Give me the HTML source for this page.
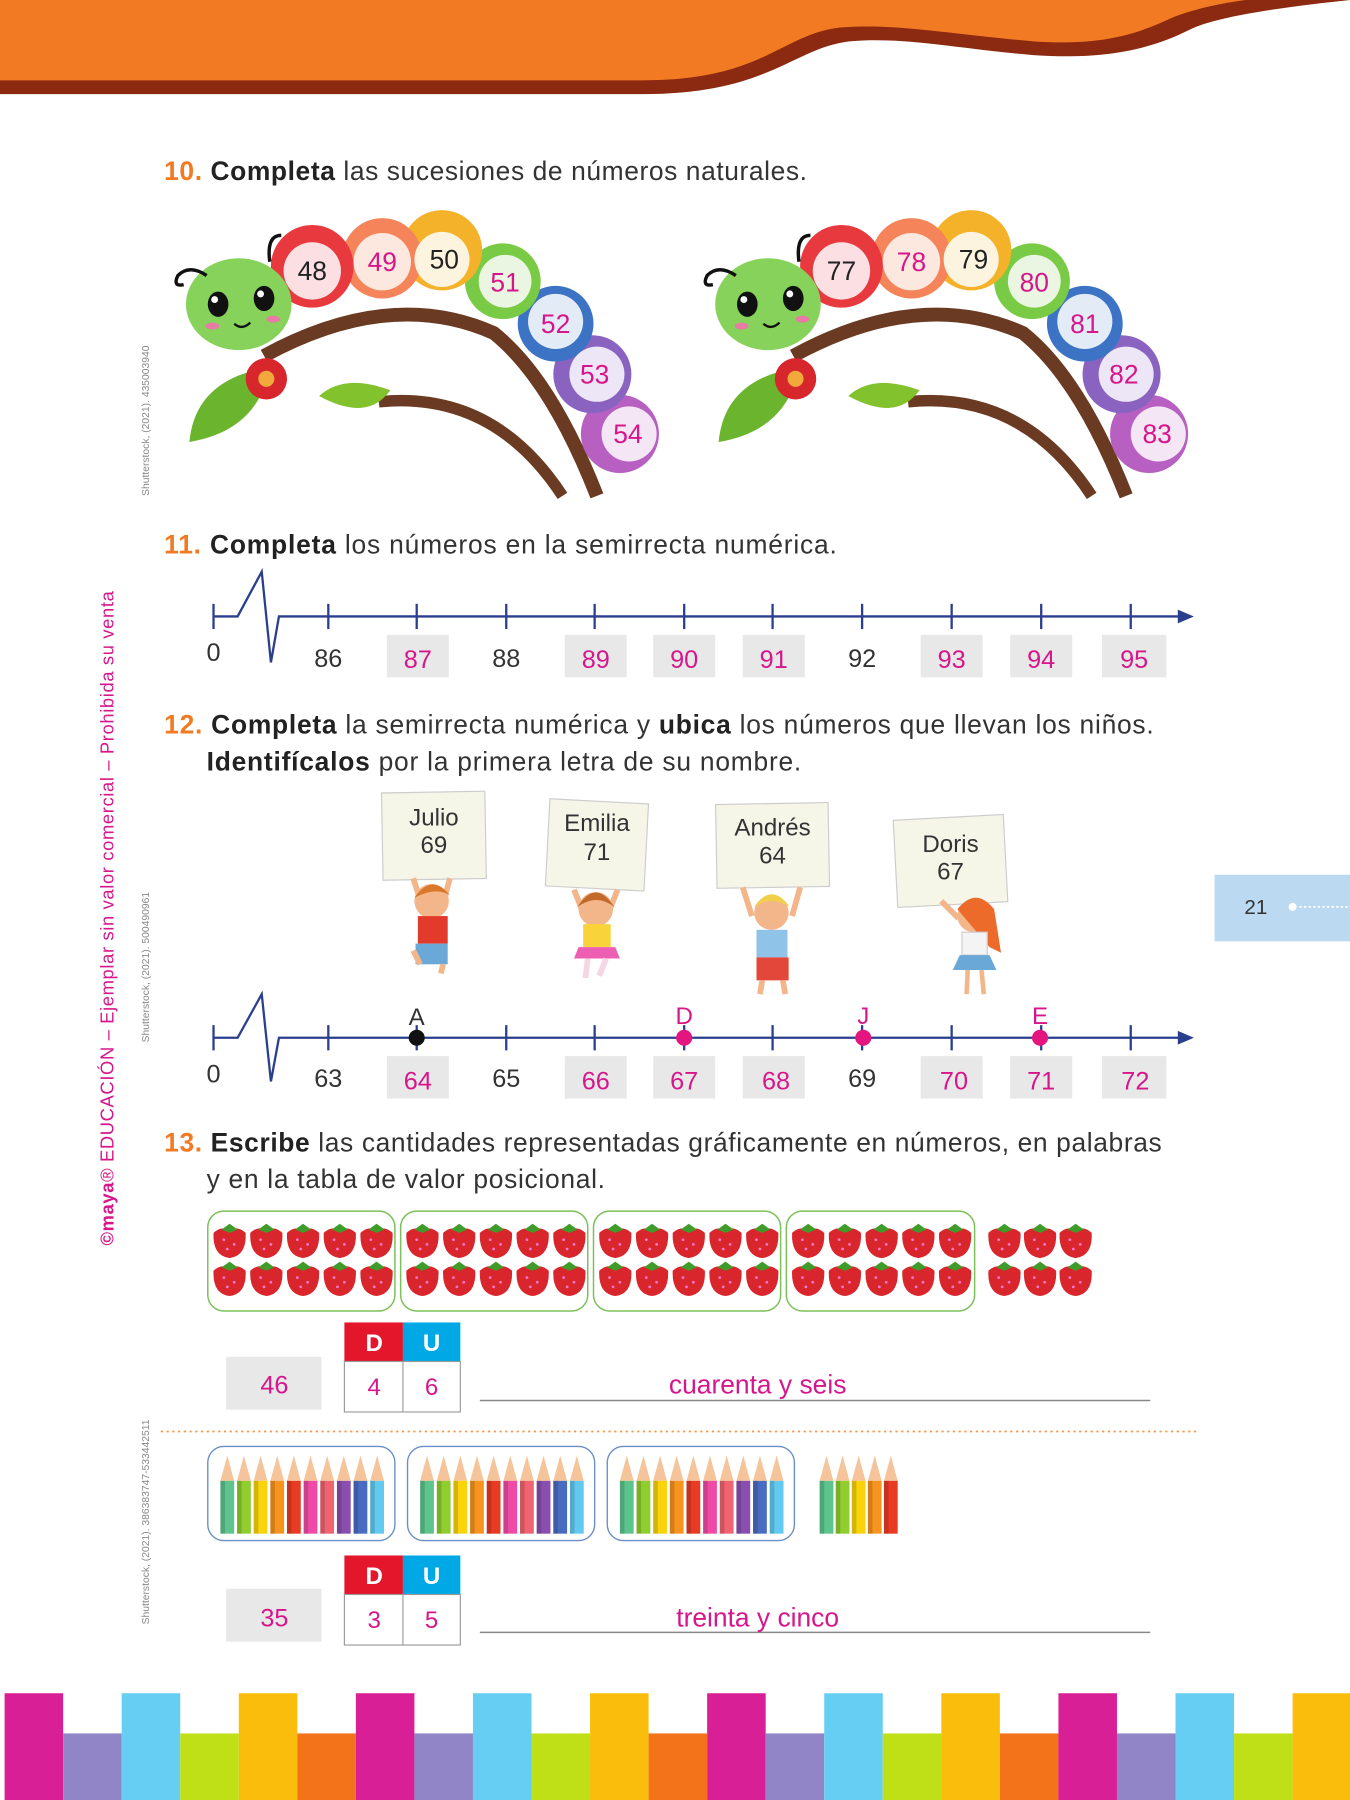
<!DOCTYPE html>
<html><head><meta charset="utf-8"><style>html,body{margin:0;padding:0;background:#fff}svg{display:block}</style></head><body>
<svg xmlns="http://www.w3.org/2000/svg" xmlns:xlink="http://www.w3.org/1999/xlink" width="1350" height="1800" viewBox="0 0 1176 1568" font-family="Liberation Sans, sans-serif">
<defs>
<g id="straw"><path d="M-14,-6 Q-15,14 0,16 Q15,14 14,-6 Q8,-12 0,-9 Q-8,-12 -14,-6Z" fill="#d8262c"/><path d="M-7,-9 L0,-14 L7,-9 L0,-6Z" fill="#3f9b2a"/><circle cx="-5" cy="0" r="1.2" fill="#f7c"/><circle cx="4" cy="4" r="1.2" fill="#f7c"/><circle cx="-2" cy="8" r="1.2" fill="#f7c"/></g>
<g id="sgrp"><use href="#straw" x="0" y="0"/><use href="#straw" x="32" y="0"/><use href="#straw" x="64" y="0"/><use href="#straw" x="96" y="0"/><use href="#straw" x="128" y="0"/><use href="#straw" x="0" y="33"/><use href="#straw" x="32" y="33"/><use href="#straw" x="64" y="33"/><use href="#straw" x="96" y="33"/><use href="#straw" x="128" y="33"/></g>
<g id="pencil"><path d="M0,22 L6,0 L12,22Z" fill="#f5c49a"/><rect x="0" y="22" width="12" height="46"/><rect x="0" y="22" width="4" height="46" fill="#000" opacity=".15"/></g>
<g id="pset"><use href="#pencil" x="0" fill="#5cc48c"/><use href="#pencil" x="14.5" fill="#8fce2e"/><use href="#pencil" x="29" fill="#f9d40a"/><use href="#pencil" x="43.5" fill="#f7941d"/><use href="#pencil" x="58" fill="#e83b23"/><use href="#pencil" x="72.5" fill="#ef4aa6"/><use href="#pencil" x="87" fill="#f06370"/><use href="#pencil" x="101.5" fill="#8a4fae"/><use href="#pencil" x="116" fill="#4a6cc0"/><use href="#pencil" x="130.5" fill="#62c9f0"/></g>
<g id="cat">
<path d="M230,310 Q340,250 430,290 Q480,330 520,432" stroke="#6b3a22" stroke-width="12" fill="none"/>
<path d="M330,350 Q430,340 490,432" stroke="#6b3a22" stroke-width="10" fill="none"/>
<path d="M165,385 Q170,330 235,320 Q225,375 165,385Z" fill="#6bb52e"/>
<path d="M278,345 Q300,325 340,340 Q320,368 278,345Z" fill="#82c22d"/>
<circle cx="232" cy="330" r="18" fill="#d7262c"/><circle cx="232" cy="330" r="7" fill="#f2a93b"/>
<circle cx="540" cy="378" r="34" fill="#b760c2"/><circle cx="516" cy="326" r="34" fill="#8a63c0"/><circle cx="484" cy="282" r="33" fill="#3d73c4"/><circle cx="438" cy="245" r="33" fill="#79cb45"/><circle cx="385" cy="218" r="35" fill="#f4b22a"/><circle cx="333" cy="225" r="35" fill="#f5845a"/><circle cx="272" cy="232" r="36" fill="#e83a3e"/>
<circle cx="548" cy="378" r="24" fill="#f4e6f5"/><circle cx="520" cy="326" r="24" fill="#ece6f6"/><circle cx="484" cy="280" r="24" fill="#e3ebf7"/><circle cx="440" cy="245" r="23" fill="#eaf6e2"/><circle cx="385" cy="226" r="24" fill="#fdf4df"/><circle cx="333" cy="228" r="25" fill="#fde8df"/><circle cx="272" cy="236" r="25" fill="#fbdfe3"/>
<ellipse cx="208" cy="265" rx="46" ry="40" fill="#86d25a"/>
<ellipse cx="190" cy="265" rx="9" ry="11" fill="#111"/><ellipse cx="230" cy="260" rx="9" ry="11" fill="#111"/><circle cx="187" cy="261" r="3" fill="#fff"/><circle cx="227" cy="256" r="3" fill="#fff"/>
<ellipse cx="185" cy="284" rx="6" ry="3" fill="#e87aa5"/><ellipse cx="238" cy="278" rx="6" ry="3" fill="#e87aa5"/><path d="M204,282 Q211,288 218,281" stroke="#111" stroke-width="2" fill="none"/>
<path d="M180,240 Q165,230 155,240 Q150,250 160,248" stroke="#111" stroke-width="3" fill="none"/>
<path d="M235,228 Q232,205 245,205" stroke="#111" stroke-width="3" fill="none"/>
</g>
</defs>
<!-- header -->
<path d="M0,0 H1176 V0 C1120,6 1060,14 1036,26 C1000,44 960,52 900,48 C830,42 790,32 740,36 C690,42 670,82 560,82 H0Z" fill="#8b2a10"/>
<path d="M0,0 H1085 C1055,4 1035,10 1022,15 C990,30 960,40 900,36 C830,30 780,20 732,24 C680,30 665,70 560,70 H0Z" fill="#f27a23"/>
<!-- stripes -->
<g>
<rect x="4" y="1475" width="51" height="93" fill="#d91f96"/><rect x="55" y="1510" width="51" height="58" fill="#9185c8"/><rect x="106" y="1475" width="51" height="93" fill="#66cdf3"/><rect x="157" y="1510" width="51" height="58" fill="#bfdf16"/><rect x="208" y="1475" width="51" height="93" fill="#fabd0b"/><rect x="259" y="1510" width="51" height="58" fill="#f2731a"/>
<rect x="310" y="1475" width="51" height="93" fill="#d91f96"/><rect x="361" y="1510" width="51" height="58" fill="#9185c8"/><rect x="412" y="1475" width="51" height="93" fill="#66cdf3"/><rect x="463" y="1510" width="51" height="58" fill="#bfdf16"/><rect x="514" y="1475" width="51" height="93" fill="#fabd0b"/><rect x="565" y="1510" width="51" height="58" fill="#f2731a"/>
<rect x="616" y="1475" width="51" height="93" fill="#d91f96"/><rect x="667" y="1510" width="51" height="58" fill="#9185c8"/><rect x="718" y="1475" width="51" height="93" fill="#66cdf3"/><rect x="769" y="1510" width="51" height="58" fill="#bfdf16"/><rect x="820" y="1475" width="51" height="93" fill="#fabd0b"/><rect x="871" y="1510" width="51" height="58" fill="#f2731a"/>
<rect x="922" y="1475" width="51" height="93" fill="#d91f96"/><rect x="973" y="1510" width="51" height="58" fill="#9185c8"/><rect x="1024" y="1475" width="51" height="93" fill="#66cdf3"/><rect x="1075" y="1510" width="51" height="58" fill="#bfdf16"/><rect x="1126" y="1475" width="51" height="93" fill="#fabd0b"/>
</g>
<!-- side texts -->
<text transform="translate(99,1085) rotate(-90)" font-size="16" fill="#d6168a" textLength="570"><tspan font-weight="bold">©maya</tspan>® EDUCACIÓN – Ejemplar sin valor comercial – Prohibida su venta</text>
<text transform="translate(130,432) rotate(-90)" font-size="9" fill="#888">Shutterstock, (2021). 435003940</text>
<text transform="translate(130,908) rotate(-90)" font-size="9" fill="#888">Shutterstock, (2021). 500490961</text>
<text transform="translate(130,1415) rotate(-90)" font-size="9" fill="#888">Shutterstock, (2021). 386383747-533442511</text>
<!-- page tab -->
<rect x="1058" y="762" width="118" height="58" fill="#bcd9f2"/>
<text x="1084" y="796" font-size="18" fill="#333">21</text>
<circle cx="1126" cy="790" r="3.5" fill="#fff"/><line x1="1132" y1="790" x2="1176" y2="790" stroke="#fff" stroke-width="1.5" stroke-dasharray="2 2"/>

<!-- 10 -->
<text x="143" y="157" font-size="23" fill="#333" textLength="560"><tspan fill="#f27a23" font-weight="bold">10.</tspan> <tspan font-weight="bold" fill="#222">Completa</tspan> las sucesiones de números naturales.</text>
<use href="#cat"/>
<use href="#cat" x="461"/>
<g font-size="23" text-anchor="middle">
<text x="272" y="244" fill="#222">48</text><text x="333" y="236" fill="#d6168a">49</text><text x="387" y="234" fill="#222">50</text><text x="440" y="254" fill="#d6168a">51</text><text x="484" y="290" fill="#d6168a">52</text><text x="518" y="334" fill="#d6168a">53</text><text x="547" y="386" fill="#d6168a">54</text>
<text x="733" y="244" fill="#222">77</text><text x="794" y="236" fill="#d6168a">78</text><text x="848" y="234" fill="#222">79</text><text x="901" y="254" fill="#d6168a">80</text><text x="945" y="290" fill="#d6168a">81</text><text x="979" y="334" fill="#d6168a">82</text><text x="1008" y="386" fill="#d6168a">83</text>
</g>

<!-- 11 -->
<text x="143" y="482" font-size="23" fill="#333" textLength="586"><tspan fill="#f27a23" font-weight="bold">11.</tspan> <tspan font-weight="bold" fill="#222">Completa</tspan> los números en la semirrecta numérica.</text>
<g fill="#e8e8e8"><rect x="337" y="553" width="54" height="37"/><rect x="492" y="553" width="54" height="37"/><rect x="569" y="553" width="54" height="37"/><rect x="647" y="553" width="54" height="37"/><rect x="802" y="553" width="54" height="37"/><rect x="880" y="553" width="54" height="37"/><rect x="960" y="553" width="56" height="37"/></g>
<g stroke="#2b3f8f" stroke-width="2" fill="none">
<path d="M186,537 H207 L228,498 L236,577 L243,537 H1030"/>
<line x1="186" y1="526" x2="186" y2="548"/>
<line x1="286" y1="526" x2="286" y2="548"/><line x1="363" y1="526" x2="363" y2="548"/><line x1="441" y1="526" x2="441" y2="548"/><line x1="518" y1="526" x2="518" y2="548"/><line x1="596" y1="526" x2="596" y2="548"/><line x1="673" y1="526" x2="673" y2="548"/><line x1="751" y1="526" x2="751" y2="548"/><line x1="829" y1="526" x2="829" y2="548"/><line x1="907" y1="526" x2="907" y2="548"/><line x1="985" y1="526" x2="985" y2="548"/>
</g>
<path d="M1040,537 L1026,531 L1026,543Z" fill="#2b3f8f"/>
<g font-size="22" text-anchor="middle" fill="#333">
<text x="186" y="576">0</text><text x="286" y="581">86</text><text x="364" y="582" fill="#d6168a">87</text><text x="441" y="581">88</text><text x="519" y="582" fill="#d6168a">89</text><text x="596" y="582" fill="#d6168a">90</text><text x="674" y="582" fill="#d6168a">91</text><text x="751" y="581">92</text><text x="829" y="582" fill="#d6168a">93</text><text x="907" y="582" fill="#d6168a">94</text><text x="988" y="582" fill="#d6168a">95</text>
</g>

<!-- 12 -->
<text x="143" y="639" font-size="23" fill="#333" textLength="862"><tspan fill="#f27a23" font-weight="bold">12.</tspan> <tspan font-weight="bold" fill="#222">Completa</tspan> la semirrecta numérica y <tspan font-weight="bold" fill="#222">ubica</tspan> los números que llevan los niños.</text>
<text x="180" y="671" font-size="23" fill="#333" textLength="518"><tspan font-weight="bold" fill="#222">Identifícalos</tspan> por la primera letra de su nombre.</text>
<!-- kids -->
<g>
<g transform="rotate(-1 378 728)"><rect x="333" y="690" width="90" height="76" fill="#f5f5e8" stroke="#ccc"/></g>
<g transform="rotate(3 520 736)"><rect x="477" y="698" width="86" height="76" fill="#f5f5e8" stroke="#ccc"/></g>
<g transform="rotate(-1 673 737)"><rect x="624" y="700" width="98" height="73" fill="#f5f5e8" stroke="#ccc"/></g>
<g transform="rotate(-3 828 750)"><rect x="780" y="712" width="96" height="76" fill="#f5f5e8" stroke="#ccc"/></g>
<g font-size="21" text-anchor="middle" fill="#333">
<text x="378" y="719">Julio</text><text x="378" y="743">69</text>
<text x="520" y="724">Emilia</text><text x="520" y="749">71</text>
<text x="673" y="728">Andrés</text><text x="673" y="752">64</text>
<text x="828" y="742">Doris</text><text x="828" y="766">67</text>
</g>
<!-- Julio -->
<path d="M360,765 L368,790 M392,765 L385,790" stroke="#f3b58a" stroke-width="5"/>
<circle cx="376" cy="785" r="15" fill="#f3b58a"/><path d="M361,782 Q376,760 392,780 Q380,772 361,782Z" fill="#d9782a"/>
<rect x="364" y="798" width="26" height="24" fill="#e23b2c"/><rect x="362" y="822" width="28" height="18" fill="#6aa8d8"/>
<path d="M366,840 L360,828 M386,840 L384,848" stroke="#f3b58a" stroke-width="5"/>
<!-- Emilia -->
<path d="M500,775 L508,795 M538,775 L530,795" stroke="#f3b58a" stroke-width="5"/>
<circle cx="519" cy="792" r="15" fill="#f3b58a"/><path d="M503,790 Q519,765 535,790 Q520,778 503,790Z" fill="#c26a2a"/>
<rect x="508" y="805" width="24" height="20" fill="#f8d43a"/><path d="M504,825 L536,825 L540,835 L500,835Z" fill="#ec5fb3"/>
<path d="M512,835 L510,852 M528,835 L522,850" stroke="#f5d6e3" stroke-width="5"/>
<!-- Andres -->
<path d="M647,773 L655,798 M697,773 L690,798" stroke="#f3b58a" stroke-width="5"/>
<circle cx="672" cy="795" r="15" fill="#f3b58a"/><path d="M657,790 Q672,768 688,790 Q672,780 657,790Z" fill="#f2cf4a"/>
<rect x="659" y="810" width="27" height="24" fill="#8fc3e8"/><rect x="659" y="834" width="28" height="20" fill="#e2473a"/>
<path d="M664,854 L662,866 M682,854 L684,866" stroke="#f3b58a" stroke-width="5"/>
<!-- Doris -->
<path d="M820,785 L835,800" stroke="#f3b58a" stroke-width="5"/>
<circle cx="848" cy="798" r="14" fill="#f3b58a"/><path d="M834,792 Q850,772 866,792 L872,830 L862,825 Z" fill="#ec6a2a"/>
<rect x="838" y="812" width="22" height="20" fill="#f4f4f4" stroke="#ccc"/><path d="M836,832 L862,832 L868,845 L830,845Z" fill="#6aa8d8"/>
<path d="M843,845 L842,866 M855,845 L857,866" stroke="#f3b58a" stroke-width="4"/>
</g>
<g fill="#e8e8e8"><rect x="337" y="920" width="54" height="37"/><rect x="492" y="920" width="54" height="37"/><rect x="569" y="920" width="54" height="37"/><rect x="647" y="920" width="54" height="37"/><rect x="802" y="920" width="54" height="37"/><rect x="880" y="920" width="54" height="37"/><rect x="960" y="920" width="56" height="37"/></g>
<g stroke="#2b3f8f" stroke-width="2" fill="none">
<path d="M186,904 H207 L228,866 L236,942 L243,904 H1030"/>
<line x1="186" y1="893" x2="186" y2="915"/>
<line x1="286" y1="893" x2="286" y2="915"/><line x1="363" y1="893" x2="363" y2="915"/><line x1="441" y1="893" x2="441" y2="915"/><line x1="518" y1="893" x2="518" y2="915"/><line x1="596" y1="893" x2="596" y2="915"/><line x1="673" y1="893" x2="673" y2="915"/><line x1="751" y1="893" x2="751" y2="915"/><line x1="829" y1="893" x2="829" y2="915"/><line x1="907" y1="893" x2="907" y2="915"/><line x1="985" y1="893" x2="985" y2="915"/>
</g>
<path d="M1040,904 L1026,898 L1026,910Z" fill="#2b3f8f"/>
<circle cx="363" cy="904" r="7" fill="#111"/><circle cx="596" cy="904" r="7" fill="#e5157f"/><circle cx="752" cy="904" r="7" fill="#e5157f"/><circle cx="906" cy="904" r="7" fill="#e5157f"/>
<g font-size="21" text-anchor="middle"><text x="363" y="893" fill="#333">A</text><text x="596" y="892" fill="#d6168a">D</text><text x="752" y="892" fill="#d6168a">J</text><text x="906" y="892" fill="#d6168a">E</text></g>
<g font-size="22" text-anchor="middle" fill="#333">
<text x="186" y="943">0</text><text x="286" y="947">63</text><text x="364" y="949" fill="#d6168a">64</text><text x="441" y="947">65</text><text x="519" y="949" fill="#d6168a">66</text><text x="596" y="949" fill="#d6168a">67</text><text x="676" y="949" fill="#d6168a">68</text><text x="751" y="947">69</text><text x="831" y="949" fill="#d6168a">70</text><text x="907" y="949" fill="#d6168a">71</text><text x="989" y="949" fill="#d6168a">72</text>
</g>

<!-- 13 -->
<text x="143" y="1003" font-size="23" fill="#333" textLength="869"><tspan fill="#f27a23" font-weight="bold">13.</tspan> <tspan font-weight="bold" fill="#222">Escribe</tspan> las cantidades representadas gráficamente en números, en palabras</text>
<text x="180" y="1035" font-size="23" fill="#333" textLength="347">y en la tabla de valor posicional.</text>
<g fill="none" stroke="#7cc05a" stroke-width="1.3"><rect x="181" y="1055" width="163" height="87" rx="14"/><rect x="349" y="1055" width="163" height="87" rx="14"/><rect x="517" y="1055" width="163" height="87" rx="14"/><rect x="685" y="1055" width="164" height="87" rx="14"/></g>
<use href="#sgrp" x="200" y="1080"/><use href="#sgrp" x="368" y="1080"/><use href="#sgrp" x="536" y="1080"/><use href="#sgrp" x="704" y="1080"/>
<use href="#straw" x="875" y="1080"/><use href="#straw" x="906" y="1080"/><use href="#straw" x="937" y="1080"/><use href="#straw" x="875" y="1113"/><use href="#straw" x="906" y="1113"/><use href="#straw" x="937" y="1113"/>

<rect x="197" y="1182" width="83" height="46" fill="#e8e8e8"/>
<text x="239" y="1214" font-size="22" text-anchor="middle" fill="#d6168a">46</text>
<rect x="300" y="1152" width="51" height="34" fill="#e3162c"/><rect x="351" y="1152" width="50" height="34" fill="#00a9e6"/>
<rect x="300" y="1186" width="101" height="44" fill="#fff" stroke="#999"/><line x1="351" y1="1186" x2="351" y2="1230" stroke="#999"/>
<g font-size="21" text-anchor="middle"><text x="326" y="1177" fill="#fff" font-weight="bold">D</text><text x="376" y="1177" fill="#fff" font-weight="bold">U</text><text x="326" y="1215" fill="#d6168a">4</text><text x="376" y="1215" fill="#d6168a">6</text></g>
<line x1="418" y1="1220" x2="1002" y2="1220" stroke="#888" stroke-width="1.3"/>
<text x="660" y="1214" font-size="23" text-anchor="middle" fill="#d6168a">cuarenta y seis</text>
<line x1="140" y1="1247" x2="1042" y2="1247" stroke="#f29a50" stroke-width="1.5" stroke-dasharray="2 3"/>

<g fill="none" stroke="#6a8fc8" stroke-width="1.2"><rect x="181" y="1260" width="163" height="82" rx="14"/><rect x="355" y="1260" width="163" height="82" rx="14"/><rect x="529" y="1260" width="163" height="82" rx="14"/></g>
<use href="#pset" x="192" y="1268"/><use href="#pset" x="366" y="1268"/><use href="#pset" x="540" y="1268"/>
<use href="#pencil" x="714" y="1268" fill="#5cc48c"/><use href="#pencil" x="728" y="1268" fill="#8fce2e"/><use href="#pencil" x="742" y="1268" fill="#f9d40a"/><use href="#pencil" x="756" y="1268" fill="#f7941d"/><use href="#pencil" x="770" y="1268" fill="#e83b23"/>

<rect x="197" y="1384" width="83" height="46" fill="#e8e8e8"/>
<text x="239" y="1417" font-size="22" text-anchor="middle" fill="#d6168a">35</text>
<rect x="300" y="1355" width="51" height="34" fill="#e3162c"/><rect x="351" y="1355" width="50" height="34" fill="#00a9e6"/>
<rect x="300" y="1389" width="101" height="44" fill="#fff" stroke="#999"/><line x1="351" y1="1389" x2="351" y2="1433" stroke="#999"/>
<g font-size="21" text-anchor="middle"><text x="326" y="1380" fill="#fff" font-weight="bold">D</text><text x="376" y="1380" fill="#fff" font-weight="bold">U</text><text x="326" y="1418" fill="#d6168a">3</text><text x="376" y="1418" fill="#d6168a">5</text></g>
<line x1="418" y1="1422" x2="1002" y2="1422" stroke="#888" stroke-width="1.3"/>
<text x="660" y="1417" font-size="23" text-anchor="middle" fill="#d6168a">treinta y cinco</text>
</svg>
</body></html>
